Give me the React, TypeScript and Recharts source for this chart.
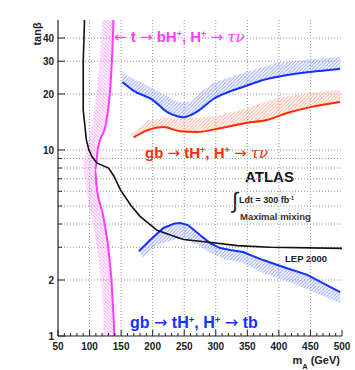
import { LineChart, Line, XAxis, YAxis, ReferenceLine } from 'recharts'

// axis ticks and grid
const xLabels = [50, 100, 150, 200, 250, 300, 350, 400, 450, 500]
const xTicks = [50, 60, 70, 80, 90, 100, 110, 120, 130, 140, 150, 160, 170, 180, 190, 200, 210, 220, 230, 240, 250, 260, 270, 280, 290, 300, 310, 320, 330, 340, 350, 360, 370, 380, 390, 400, 410, 420, 430, 440, 450, 460, 470, 480, 490, 500]
const yTicks = [1, 2, 3, 4, 5, 6, 7, 8, 9, 10, 20, 30, 40]
const yLabels = [1, 2, 10, 20, 30, 40]
const xGrid = [100, 150, 200, 250, 300, 350, 400, 450]
const yGrid = [2, 3, 4, 5, 6, 7, 8, 9, 10, 20, 30, 40]

// LEP 2000 exclusion
const lepMass = [92, 90, 90, 95, 99, 104, 112, 130, 138, 149, 165, 180, 207, 228, 249, 286, 334, 386, 500]
const lepTanb = [50, 30, 16.4, 11.3, 10, 9.2, 8.5, 8.0, 7.3, 6.1, 5.06, 4.4, 3.7, 3.49, 3.3, 3.2, 3.06, 3.0, 2.96]

// t -> bH+, H+ -> tau nu (magenta)
const topMass = [138, 136, 133, 127, 113, 109, 111, 122, 130, 135, 138, 139.4]
const topTanb = [50, 33.2, 21.8, 14.5, 10, 7.8, 6.5, 4.36, 2.9, 1.93, 1.26, 1]
const topHatchMass = [120, 117, 112, 105, 95, 90, 93, 103, 112.5, 118.8, 122, 122]
const topHatchTanb = [50, 33.2, 21.8, 14.5, 10, 8.3, 6.5, 4.36, 2.9, 1.93, 1.26, 1]

// upper blue curve
const upBlueMass = [152, 170, 200, 223, 239, 250, 260, 275, 296, 320, 343, 370, 397, 450, 497]
const upBlueTanb = [23.2, 20.8, 18.6, 16.0, 15.2, 15.0, 15.4, 16.5, 18.8, 20.5, 21.8, 23.5, 24.7, 26.3, 27.3]
const upBlueHatchMass = [152, 200, 239, 260, 275, 296, 343, 397, 450, 497]
const upBlueHatchTanb = [25.9, 21.5, 18.1, 18.1, 20.3, 22.9, 25.9, 29.4, 30.8, 31.6]

// gb -> tH+, H+ -> tau nu (red)
const redMass = [170, 192, 217, 244, 271, 307, 350, 381, 413, 450, 497]
const redTanb = [11.7, 12.8, 13.3, 12.6, 12.5, 13.1, 14.0, 14.5, 15.8, 17.0, 18.1]
const redHatchMass = [165, 192, 223, 271, 307, 350, 397, 450, 497]
const redHatchTanb = [12.0, 14.5, 14.9, 14.9, 15.4, 16.8, 19.0, 20.3, 21.0]

// gb -> tH+, H+ -> tb (lower blue)
const lowBlueMass = [178, 196, 217, 235, 244, 256, 275, 291, 307, 323, 343, 375, 407, 445, 497]
const lowBlueTanb = [2.86, 3.28, 3.81, 4.03, 4.05, 3.95, 3.49, 3.16, 2.97, 2.9, 2.83, 2.56, 2.35, 2.13, 1.72]
const lowBlueHatchMass = [185, 207, 244, 271, 291, 318, 339, 375, 429, 497]
const lowBlueHatchTanb = [2.63, 3.09, 3.36, 3.09, 2.79, 2.56, 2.5, 2.18, 1.88, 1.5]

const toPoints = (m: number[], t: number[]) => m.map((v, i) => ({ m: v, t: t[i] }))
// closed band: the curve, then the hatch edge walked back
const toBand = (m: number[], t: number[], hm: number[], ht: number[]) => [...toPoints(m, t), ...toPoints(hm, ht).reverse()]

const FONT = 'Liberation Sans, Arial, sans-serif'
const MAGENTA = '#ff3cff'
const RED = '#ff2a00'
const BLUE = '#1432ff'

const BottomTick = (props: any) => {
  const { x, y, payload } = props
  const major = xLabels.includes(payload.value)
  return (
    <g>
      <line x1={x} x2={x} y1={y} y2={y - (major ? 6 : 3)} stroke="#222" />
      {major && (
        <text x={x} y={y + 14} textAnchor="middle" fontSize={10} fontWeight="bold" fill="#222" fontFamily={FONT}>
          {payload.value}
        </text>
      )}
    </g>
  )
}

const TopTick = (props: any) => {
  const { x, y, payload } = props
  const major = xLabels.includes(payload.value)
  return <line x1={x} x2={x} y1={y} y2={y + (major ? 6 : 3)} stroke="#222" />
}

const LeftTick = (props: any) => {
  const { x, y, payload } = props
  const major = yLabels.includes(payload.value)
  return (
    <g>
      <line x1={x} x2={x + (major ? 7 : 4)} y1={y} y2={y} stroke="#222" />
      {major && (
        <text x={x - 4} y={y + 4} textAnchor="end" fontSize={10} fontWeight="bold" fill="#222" fontFamily={FONT}>
          {payload.value}
        </text>
      )}
    </g>
  )
}

const RightTick = (props: any) => {
  const { x, y, payload } = props
  const major = yLabels.includes(payload.value)
  return <line x1={x} x2={x - (major ? 7 : 4)} y1={y} y2={y} stroke="#222" />
}

const Sup = ({ children, size }: { children: string; size: number }) => (
  <tspan baselineShift="super" fontSize={size * 0.6}>{children}</tspan>
)

const Arrow = ({ left }: { left?: boolean }) => (
  <tspan fontFamily="DejaVu Sans" fontWeight="normal">{left ? '←' : '→'}</tspan>
)

const Greek = ({ children }: { children: string }) => (
  <tspan fontFamily="DejaVu Serif" fontStyle="italic" fontWeight="normal">{children}</tspan>
)

export default function App() {
  return (
    <div style={{ position: 'absolute', left: 0, top: 0 }}>
      <style>{`
        .band-m path { fill: url(#hatchM); }
        .band-b path { fill: url(#hatchB); }
        .band-r path { fill: url(#hatchR); }
      `}</style>
      <LineChart width={355} height={370} margin={{ top: 20, right: 13, bottom: 0, left: 0 }}>
        <defs>
          <pattern id="hatchM" patternUnits="userSpaceOnUse" width="3.5" height="3.5">
            <path d="M-1,2.5 l2,2 M0,0 l3.5,3.5 M2.5,-1 l2,2" stroke="#ff9cff" strokeWidth={0.9} />
          </pattern>
          <pattern id="hatchB" patternUnits="userSpaceOnUse" width="3.5" height="3.5">
            <path d="M-1,1 l2,-2 M0,3.5 l3.5,-3.5 M2.5,4.5 l2,-2" stroke="#8c9cff" strokeWidth={0.9} />
          </pattern>
          <pattern id="hatchR" patternUnits="userSpaceOnUse" width="3.5" height="3.5">
            <path d="M-1,1 l2,-2 M0,3.5 l3.5,-3.5 M2.5,4.5 l2,-2" stroke="#ffaa96" strokeWidth={0.9} />
          </pattern>
        </defs>

        <XAxis
          dataKey="m"
          type="number"
          domain={[50, 500]}
          allowDataOverflow
          ticks={xTicks}
          interval={0}
          height={34}
          tickSize={0}
          tickMargin={0}
          tickLine={false}
          tick={<BottomTick />}
          axisLine={{ stroke: '#222', strokeWidth: 1.2 }}
        />
        <XAxis
          xAxisId="top"
          orientation="top"
          dataKey="m"
          type="number"
          domain={[50, 500]}
          allowDataOverflow
          ticks={xTicks}
          interval={0}
          height={0}
          tickSize={0}
          tickMargin={0}
          tickLine={false}
          tick={<TopTick />}
          axisLine={{ stroke: '#222', strokeWidth: 1.2 }}
        />
        <YAxis
          type="number"
          scale="log"
          domain={[1, 50]}
          allowDataOverflow
          ticks={yTicks}
          interval={0}
          width={58}
          tickSize={0}
          tickMargin={0}
          tickLine={false}
          tick={<LeftTick />}
          axisLine={{ stroke: '#222', strokeWidth: 1.2 }}
        />
        <YAxis
          yAxisId="right"
          orientation="right"
          type="number"
          scale="log"
          domain={[1, 50]}
          allowDataOverflow
          ticks={yTicks}
          interval={0}
          width={0}
          tickSize={0}
          tickMargin={0}
          tickLine={false}
          tick={<RightTick />}
          axisLine={{ stroke: '#555', strokeWidth: 1.2 }}
        />

        {xGrid.map((v) => (
          <ReferenceLine key={`gx${v}`} x={v} stroke="#999" strokeDasharray="1 2" />
        ))}
        {yGrid.map((v) => (
          <ReferenceLine key={`gy${v}`} y={v} stroke="#999" strokeDasharray="1 2" />
        ))}

        {/* hatched bands */}
        <Line className="band-m" data={toBand(topMass, topTanb, topHatchMass, topHatchTanb)} dataKey="t" type="linear" stroke="none" dot={false} activeDot={false} isAnimationActive={false} />
        <Line className="band-b" data={toBand(upBlueMass, upBlueTanb, upBlueHatchMass, upBlueHatchTanb)} dataKey="t" type="linear" stroke="none" dot={false} activeDot={false} isAnimationActive={false} />
        <Line className="band-r" data={toBand(redMass, redTanb, redHatchMass, redHatchTanb)} dataKey="t" type="linear" stroke="none" dot={false} activeDot={false} isAnimationActive={false} />
        <Line className="band-b" data={toBand(lowBlueMass, lowBlueTanb, lowBlueHatchMass, lowBlueHatchTanb)} dataKey="t" type="linear" stroke="none" dot={false} activeDot={false} isAnimationActive={false} />

        {/* curves */}
        <Line data={toPoints(topMass, topTanb)} dataKey="t" type="monotone" stroke={MAGENTA} strokeWidth={2} dot={false} activeDot={false} isAnimationActive={false} />
        <Line data={toPoints(upBlueMass, upBlueTanb)} dataKey="t" type="monotone" stroke={BLUE} strokeWidth={2} dot={false} activeDot={false} isAnimationActive={false} />
        <Line data={toPoints(redMass, redTanb)} dataKey="t" type="monotone" stroke={RED} strokeWidth={2} dot={false} activeDot={false} isAnimationActive={false} />
        <Line data={toPoints(lowBlueMass, lowBlueTanb)} dataKey="t" type="linear" stroke={BLUE} strokeWidth={2} dot={false} activeDot={false} isAnimationActive={false} />
        <Line data={toPoints(lepMass, lepTanb)} dataKey="t" type="linear" stroke="#111" strokeWidth={1.6} dot={false} activeDot={false} isAnimationActive={false} />

        {/* annotations */}
        <text x={37} y={34} transform="rotate(-90 37 34)" textAnchor="middle" dominantBaseline="central" fontSize={11} fontWeight="bold" fill="#222" fontFamily={FONT}>
          tanβ
        </text>
        <text x={340} y={364} textAnchor="end" fontSize={11} fontWeight="bold" fill="#222" fontFamily={FONT}>
          m<tspan baselineShift="sub" fontSize={7.5}>A</tspan> (GeV)
        </text>

        <text x={114} y={42} fontSize={15} fontWeight="bold" fill={MAGENTA} fontFamily={FONT}>
          <Arrow left /> t <Arrow /> bH<Sup size={15}>+</Sup>, H<Sup size={15}>+</Sup> <Arrow /> <Greek>τν</Greek>
        </text>
        <text x={145} y={158} fontSize={15} fontWeight="bold" fill={RED} fontFamily={FONT}>
          gb <Arrow /> tH<Sup size={15}>+</Sup>, H<Sup size={15}>+</Sup> <Arrow /> <Greek>τν</Greek>
        </text>
        <text x={130} y={328} fontSize={16} fontWeight="bold" fill={BLUE} fontFamily={FONT}>
          gb <Arrow /> tH<Sup size={16}>+</Sup>, H<Sup size={16}>+</Sup> <Arrow /> tb
        </text>

        <text x={245} y={182} fontSize={15} fontWeight="bold" fill="#111" fontFamily={FONT}>ATLAS</text>
        <text x={232} y={208} fontSize={22} fill="#222" fontFamily={FONT}>∫</text>
        <text x={239} y={203} fontSize={9} fontWeight="bold" fill="#222" fontFamily={FONT}>
          Ldt = 300 fb<Sup size={9}>-1</Sup>
        </text>
        <text x={240} y={220} fontSize={9.5} fontWeight="bold" fill="#333" fontFamily={FONT}>Maximal mixing</text>
        <text x={285} y={262} fontSize={9.5} fontWeight="bold" fill="#222" fontFamily={FONT}>LEP 2000</text>
      </LineChart>
    </div>
  )
}
